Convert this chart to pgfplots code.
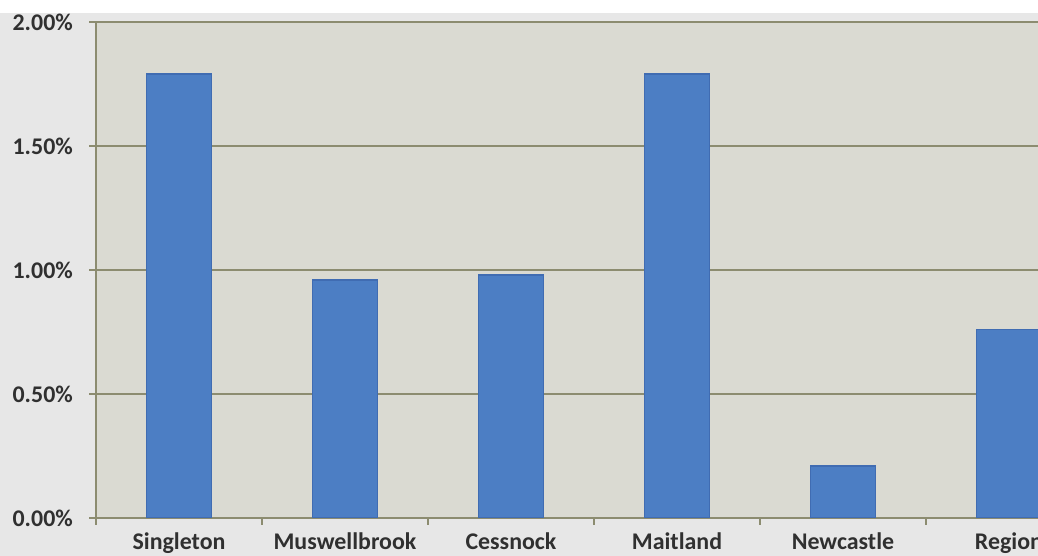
\documentclass[border=0pt]{standalone}
\usepackage{pgfplots}
\pgfplotsset{compat=1.18}
\usepackage{fontspec}
\setmainfont{Carlito}
\definecolor{plotbg}{RGB}{218,218,210}
\definecolor{outerbg}{RGB}{231,231,231}
\definecolor{gridol}{RGB}{140,140,112}
\definecolor{barfill}{RGB}{76,126,196}
\definecolor{baredge}{RGB}{64,108,178}
\definecolor{labelc}{RGB}{48,48,48}

\begin{document}
\begin{tikzpicture}[x=1bp,y=1bp]
\clip (0,0) rectangle (1038,556);
\fill[outerbg] (0,0) rectangle (1038,556);
\fill[white] (0,543) rectangle (1038,556);
\begin{axis}[
  at={(96bp,38bp)}, anchor=south west,
  scale only axis, width=942bp, height=496bp,
  xmin=-0.5, xmax=5.175, ymin=0, ymax=2,
  axis background/.style={fill=plotbg},
  axis x line*=bottom, axis y line*=left,
  axis line style={gridol, line width=1.5bp, -},
  ybar, bar width=0.39,
  ytick={0,0.5,1,1.5,2},
  yticklabels={0.00\%,0.50\%,1.00\%,1.50\%,2.00\%},
  ymajorgrids, grid style={gridol, line width=1.5bp},
  xtick={-0.5,0.5,1.5,2.5,3.5,4.5},
  xticklabels={,,,,,,},
  extra x ticks={0,1,2,3,4,5},
  extra x tick labels={Singleton,Muswellbrook,Cessnock,Maitland,Newcastle,Region},
  extra x tick style={major tick length=0pt, grid=none},
  tick align=outside,
  major tick length=7bp,
  tick style={gridol, line width=1.2bp},
  ticklabel style={font=\fontsize{24}{28}\selectfont\bfseries, text=labelc},
  yticklabel style={anchor=east, inner sep=0pt, xshift=-16bp},
  xticklabel style={anchor=base, inner sep=0pt, yshift=-32bp},
]
\addplot[fill=barfill, draw=baredge, line width=1.5bp]
  coordinates {(0,1.79) (1,0.96) (2,0.98) (3,1.79) (4,0.21) (5,0.76)};
\end{axis}
\end{tikzpicture}
\end{document}
